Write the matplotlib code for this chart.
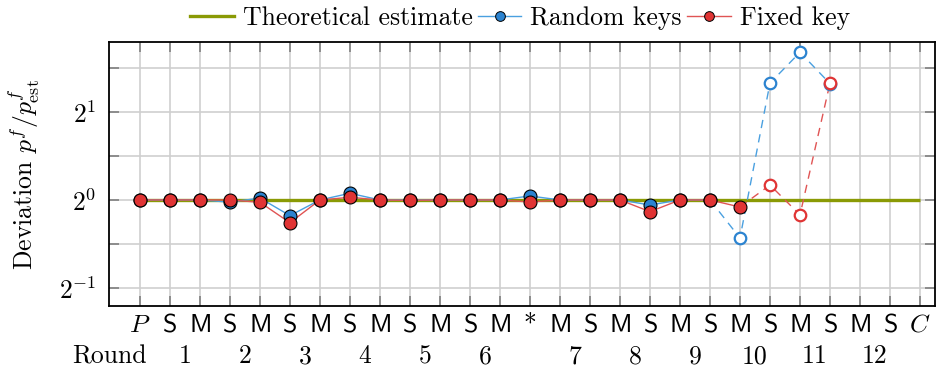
import numpy as np
import matplotlib
matplotlib.use("Agg")
import matplotlib.pyplot as plt
from matplotlib.lines import Line2D
from matplotlib.transforms import blended_transform_factory

# ---------------- data ----------------
step_labels = ['$P$', 'S', 'M', 'S', 'M', 'S', 'M', 'S', 'M', 'S', 'M', 'S', 'M',
               '*', 'M', 'S', 'M', 'S', 'M', 'S', 'M', 'S', 'M', 'S', 'M', 'S', '$C$']
round_labels = ['1', '2', '3', '4', '5', '6', '7', '8', '9', '10', '11', '12']
round_pos = [1.5, 3.5, 5.5, 7.5, 9.5, 11.5, 14.5, 16.5, 18.5, 20.5, 22.5, 24.5]

theoretical = [1.0] * 27

# measured (filled) part
random_keys = [1.0, 1.0, 1.0, 0.983, 1.015, 0.884, 1.0, 1.054, 1.0, 1.0,
               1.0, 1.0, 1.0, 1.032, 1.0, 1.0, 1.0, 0.961, 1.0, 1.0]
fixed_key = [1.0, 1.0, 1.0, 1.0, 0.982, 0.836, 1.0, 1.021, 1.0, 0.997,
             1.0, 1.0, 1.0, 0.984, 1.0, 1.0, 1.0, 0.912, 1.0, 1.0, 0.946]
# extrapolated (open) part
random_keys_ext = [0.741, 2.51, 3.2, 2.5]     # steps 20..23
fixed_key_ext = [1.125, 0.889, 2.51]          # steps 21..23

# ---------------- style ----------------
plt.rcParams['mathtext.fontset'] = 'cm'
plt.rcParams['font.family'] = ['cmr10', 'DejaVu Serif']
plt.rcParams['axes.formatter.use_mathtext'] = True
FS = 18.5

GREEN = '#8a9a05'
BLUE_F = '#2b83d0'
BLUE_L = '#4aa0e0'
RED_F = '#e03434'
RED_L = '#e05454'

fig = plt.figure(figsize=(9.36, 3.72), dpi=100)
ax = fig.add_axes([109/936, 1-306/372, (935-109)/936, (306-42)/372])

x = np.arange(len(step_labels))

ax.plot(x, theoretical, color=GREEN, lw=2.4, zorder=2, solid_capstyle='butt')

# random keys
xr = np.arange(len(random_keys))
ax.plot(xr, random_keys, color=BLUE_L, lw=1.0, zorder=3)
xr_ext = np.arange(len(random_keys), len(random_keys) + len(random_keys_ext))
ax.plot(np.concatenate([[xr[-1]], xr_ext]), [random_keys[-1]] + random_keys_ext,
        color=BLUE_L, lw=1.0, ls=(0, (6, 4.5)), zorder=3)
ax.plot(xr_ext, random_keys_ext, ls='none', marker='o', ms=8.3, mfc='white',
        mec=BLUE_F, mew=1.6, zorder=4)
ax.plot(xr, random_keys, ls='none', marker='o', ms=9.3, mfc=BLUE_F,
        mec='black', mew=0.8, zorder=5)

# fixed key
xf = np.arange(len(fixed_key))
ax.plot(xf, fixed_key, color=RED_L, lw=1.0, zorder=3)
xf_ext = np.arange(len(fixed_key), len(fixed_key) + len(fixed_key_ext))
ax.plot(np.concatenate([[xf[-1]], xf_ext]), [fixed_key[-1]] + fixed_key_ext,
        color=RED_L, lw=1.0, ls=(0, (6, 4.5)), zorder=3)
ax.plot(xf_ext, fixed_key_ext, ls='none', marker='o', ms=8.3, mfc='white',
        mec=RED_F, mew=1.6, zorder=4)
ax.plot(xf, fixed_key, ls='none', marker='o', ms=9.3, mfc=RED_F,
        mec='black', mew=0.8, zorder=6)

# axes
ax.set_yscale('log', base=2)
ax.set_ylim(2 ** -1.205, 2 ** 1.795)
ax.set_xlim(-1.03, 26.5)

ax.set_xticks(x)
labels_fmt = [l if (l.startswith('$') or l == '*') else r'$\mathsf{%s}$' % l
              for l in step_labels]
ax.set_xticklabels(labels_fmt, fontsize=FS)
ax.set_yticks([2 ** -1, 2 ** 0, 2 ** 1])
ax.set_yticklabels([r'$2^{-1}$', r'$2^{0}$', r'$2^{1}$'], fontsize=FS)
ax.set_yticks([2 ** -0.5, 2 ** 0.5, 2 ** 1.5], minor=True)
ax.set_yticklabels([], minor=True)
ax.xaxis.set_minor_locator(matplotlib.ticker.NullLocator())

ax.tick_params(axis='both', which='both', direction='in', length=7, width=1.2,
               color='#808080', top=True, right=True)
ax.tick_params(axis='x', pad=5)
ax.tick_params(axis='y', pad=9)

ax.grid(True, which='major', axis='x', color='#cfcfcf', lw=1.2, zorder=0)
ax.grid(True, which='both', axis='y', color='#cfcfcf', lw=1.2, zorder=0)
ax.set_axisbelow(True)
for s in ax.spines.values():
    s.set_linewidth(1.3)
    s.set_color('black')

ax.set_ylabel(r'Deviation $p^f/p^f_{\mathrm{est}}$', fontsize=FS, labelpad=12)

# round row
tr = blended_transform_factory(ax.transData, fig.transFigure)
ybase = 1 - 363/372
ax.text(-1.03, ybase, 'Round', transform=tr, ha='center', va='baseline', fontsize=FS)
for p, l in zip(round_pos, round_labels):
    ax.text(p, ybase, l, transform=tr, ha='center', va='baseline', fontsize=FS)

# legend
handles = [
    Line2D([], [], color=GREEN, lw=2.4),
    Line2D([], [], color=BLUE_L, lw=1.0, marker='o', ms=7, mfc=BLUE_F, mec='black', mew=0.7),
    Line2D([], [], color=RED_L, lw=1.0, marker='o', ms=7, mfc=RED_F, mec='black', mew=0.7),
]
fig.legend(handles, ['Theoretical estimate', 'Random keys', 'Fixed key'],
           loc='center', bbox_to_anchor=(520/936, 1 - 18/372), ncol=3,
           frameon=False, fontsize=FS, handlelength=1.7, handletextpad=0.35,
           columnspacing=0.2, borderaxespad=0, borderpad=0)

fig.savefig('out.png', dpi=100)
